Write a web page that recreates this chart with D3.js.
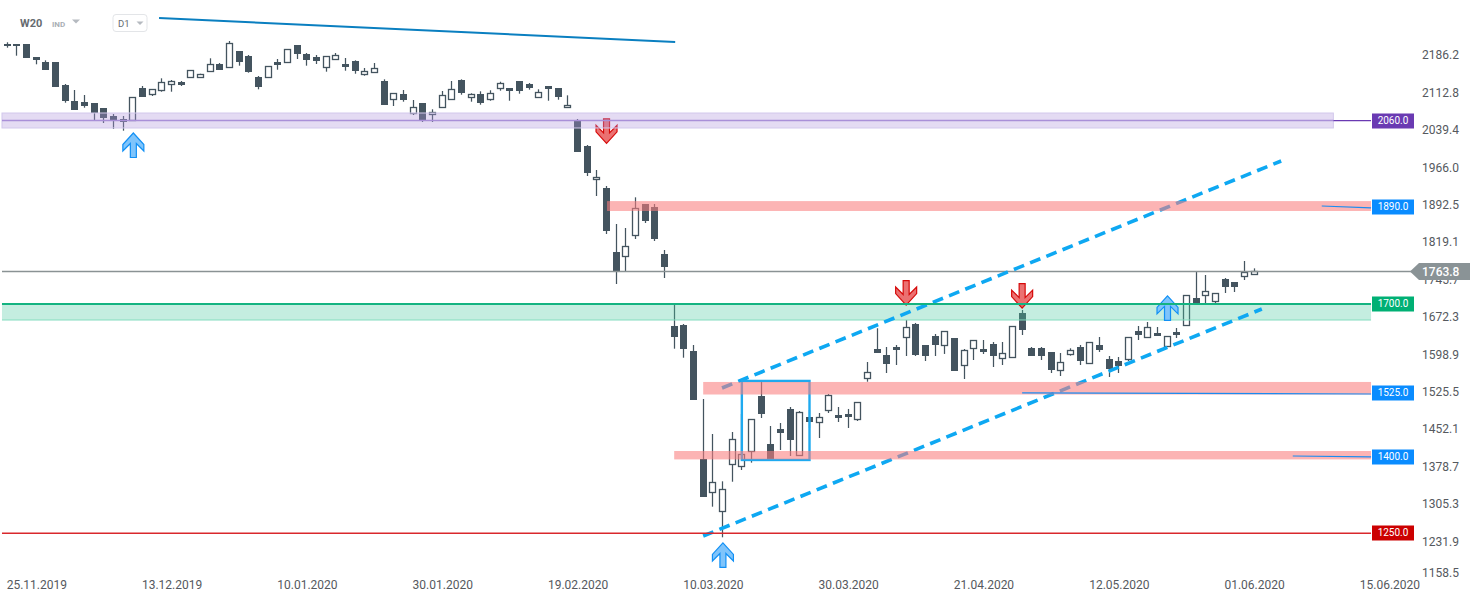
<!DOCTYPE html>
<html><head><meta charset="utf-8">
<script src="https://cdn.jsdelivr.net/npm/d3@7"></script>
<style>html,body{margin:0;padding:0;background:#fff;overflow:hidden}svg{display:block;font-family:Roboto,sans-serif}</style>
</head><body><svg id="c" width="1482" height="604"></svg>
<script>
// Daily candles: open, high, low, close, index = trading day
const candles = [
[2209.8,2213.7,2203.1,2205.8],[2210.3,2210.3,2187.4,2205.8],[2210.3,2210.3,2183.4,2183.4],[2184.8,2184.8,2170.5,2179.5],[2175,2178.3,2159.9,2159.9],
[2175,2175,2126.5,2126.5],[2129.9,2131.8,2095.1,2099],[2098.5,2120.1,2080.8,2081.4],[2096.5,2110.2,2085.3,2088.7],[2094.5,2094.5,2061.2,2074.9],
[2084.7,2084.7,2055.3,2065.7],[2069,2072.9,2043.5,2061.2],[2063.1,2069,2040.2,2057.8],[2061.2,2105.7,2061.2,2105.7],[2123.4,2127.9,2106.9,2106.9],
[2112.8,2121.4,2108.3,2121.4],[2120.1,2143,2116.7,2135.2],[2131.2,2139.7,2116.7,2137.1],[2135.8,2137.7,2127.9,2129.9],[2146.2,2158.7,2144.2,2158.7],
[2146.2,2152,2144.2,2152],[2158,2182.3,2158,2170.5],[2171,2173,2159.9,2159.9],[2165.8,2216.2,2165.8,2211.7],[2196.6,2196.6,2167.8,2175.6],
[2186.8,2188.8,2154,2155.4],[2145.6,2147.5,2121.4,2125.9],[2145,2166.6,2145,2166.6],[2174.4,2180.9,2159.9,2169.7],[2174.4,2200,2174.4,2200],
[2208.4,2208.4,2180.9,2191.3],[2190.7,2192.7,2167.8,2178.9],[2184.8,2188.8,2171.1,2177],[2165.8,2186.8,2156,2186.8],[2181.5,2192.7,2181.5,2188.2],
[2171,2182.9,2157.9,2165.2],[2177,2178.3,2152,2158],[2152,2163.2,2148.1,2156.7],[2156,2173,2156,2162.6],[2137.7,2141,2090.6,2090.6],
[2101.8,2113.6,2088.7,2113.6],[2111.6,2120.1,2097.1,2100.4],[2074.3,2100.4,2071,2086.1],[2094.5,2094.5,2057.2,2061.2],[2072.4,2082.2,2057.2,2077.5],
[2087.3,2118.1,2085.3,2109.6],[2101.8,2137.7,2101.8,2121.4],[2139.1,2141,2110.8,2114.8],[2106.9,2113.6,2097.1,2111.6],[2112.2,2117.5,2091.2,2094.5],
[2103,2119.5,2099,2113.6],[2124.6,2136.3,2118.7,2133.2],[2123.4,2123.4,2099,2118.7],[2137.1,2137.1,2112.8,2118.7],[2131.2,2133.8,2120.7,2124],
[2106.9,2121.4,2104.9,2116.7],[2127.3,2127.3,2099,2122.6],[2123.4,2123.4,2101,2106.9],[2087.3,2109.6,2087.3,2091.2],[2061.2,2063.1,1999,1999],
[2010.1,2012.1,1951.3,1957.7],[1944.8,1963,1912,1948.7],[1927.7,1931.6,1837.4,1843.9],[1801.5,1857,1739.3,1764.2],[1794.8,1849.2,1764.2,1813.3],
[1836,1909.4,1827.6,1887.9],[1896.3,1896.3,1859,1862.9],[1890.4,1896.3,1823.7,1827.6],[1798.2,1806,1751.1,1772.7],[1656.8,1700,1612.3,1635.8],
[1658.8,1660.8,1594.6,1612.3],[1607.8,1619.6,1512.2,1512.2],[1395.8,1513.6,1321.2,1321.2],[1331.6,1444.9,1302.2,1350.1],[1294.3,1352,1242.1,1336.4],
[1385.4,1448.8,1351.2,1434.5],[1381.5,1484.1,1374.2,1405],[1412.1,1473.8,1388.6,1473.8],[1519.5,1550.9,1476.3,1484.1],[1425.3,1460.6,1393.9,1393.9],
[1454.7,1466.5,1413.5,1446.9],[1494,1497.9,1401.7,1433.1],[1404.3,1490,1404.3,1487.5],[1478.2,1492,1456.7,1468.4],[1469,1486.1,1437,1477.7],
[1491.4,1523.4,1486.1,1520.8],[1482.2,1497.9,1468.4,1476.3],[1484.1,1494,1456.7,1478.2],[1474.9,1507.1,1470.4,1507.1],[1555.4,1586.2,1547.5,1566],
[1611.7,1652.4,1604.4,1604.4],[1600,1615.6,1564.6,1582.3],[1615.6,1619.6,1580.3,1609.8],[1634.7,1668.6,1598,1654.3],[1660.8,1662.8,1598,1600],
[1619.6,1619.6,1588.2,1598],[1637.2,1641.2,1598,1619.6],[1620,1646.5,1602,1646.5],[1633.3,1633.3,1568.5,1568.5],[1581,1611.7,1552.8,1609.2],
[1614.3,1628.8,1590.1,1628.8],[1611.7,1629.4,1601.9,1605.8],[1621.5,1625.4,1576.4,1598],[1594.6,1625.4,1580.3,1603.3],[1596.6,1656.3,1596.6,1656.3],
[1682.4,1688.3,1639.2,1649],[1613.7,1615.6,1598,1598],[1613.7,1615.6,1590.1,1598],[1605.8,1605.8,1564.6,1570.5],[1571.1,1603.9,1558.7,1585.6],
[1602.5,1613.1,1598.6,1609.2],[1615,1619.6,1580.3,1588.8],[1583.7,1624.9,1583.7,1624.9],[1619,1635.3,1605.9,1609.8],[1591.5,1598,1556.8,1572.5],
[1587.6,1596,1564.6,1577.8],[1592.7,1634.7,1588.2,1634.7],[1646.5,1656.8,1629.4,1639.2],[1635.9,1664.7,1635.9,1654.3],[1642.5,1654.9,1637.2,1637.2],
[1618.2,1636.6,1618.2,1636.6],[1644.5,1652.9,1633.3,1639.2],[1659.4,1717.1,1659.4,1717.1],[1711.2,1762.8,1702.6,1702.6],[1718.3,1757,1700,1725],
[1706.5,1721,1702,1721],[1748.5,1751.1,1721.6,1734],[1743.2,1743.2,1723.6,1734],[1755.6,1784.4,1747.1,1762.2],[1759.5,1770,1757.5,1765.4]
];
const priceTicks = [2186.2,2112.8,2039.4,1966.0,1892.5,1819.1,1745.7,1672.3,1598.9,1525.5,1452.1,1378.7,1305.3,1231.9,1158.5];
const dateIndex = [3,17,31,45,59,73,87,101,115,129,143];
const dateLabels = ["25.11.2019","13.12.2019","10.01.2020","30.01.2020","19.02.2020","10.03.2020","30.03.2020","21.04.2020","12.05.2020","01.06.2020","15.06.2020"];
const lastPrice = 1763.8;
// zones: from-index, to-index, upper price, lower price
const greenZone = [-0.55,141.1,1700,1668.6];
const purpleZone = [-0.55,137.2,2074.9,2045.5];
const redZones = [[62.05,141.1,1902,1882.6],[72,141.1,1547,1522.4],[69,141.1,1411.5,1395]];
// price levels: price, tag colour
const levels = [[2060,"#6a3ab2"],[1890,"#0a8cff"],[1700,"#00b074"],[1525,"#0a8cff"],[1400,"#0a8cff"],[1250,"#cc0000"]];
// trend lines: i0, p0, i1, p1
const channelLines = [[73.95,1535.2,131.8,1980.7],[72,1244.7,129.8,1690.2]];
const topLine = [15.7,2261.4,69.1,2214.3];
const thinLines = [[136,1892.4,141.1,1888.5],[105,1525.4,141.1,1523.4],[133,1401.7,141.1,1399.8]];
const levelLines = [[-0.55,137.2,2060,"#a98fd8",1.5],[137.2,141.1,2060,"#6a3ab2",1.2],[-0.55,141.1,1700,"#14b381",2],[-0.55,141.1,1250,"#d9282c",1.5]];
const boxRange = [76,83,1549,1393.9];
const upArrows = [[13,2035.7],[74,1231],[120,1716]];
const downArrows = [[62,2015.4],[93,1698],[105,1692]];

const svg = d3.select("#c");
const x = d3.scaleLinear().domain([0,129]).range([7.3,1254.1]);
const y = d3.scaleLinear().domain([2186.2,1158.5]).range([56.3,579.9]);
const DARK = "#44545f";
const TXT = "#55595e";

// price axis
const yAxis = d3.axisRight(y).tickValues(priceTicks).tickSize(0).tickPadding(0).tickFormat(d3.format(".1f"));
const gy = svg.append("g").attr("transform","translate(1422,-1.2)").call(yAxis);
gy.select(".domain").remove();
gy.selectAll("text").attr("fill",TXT).style("font-size","12px").style("font-family","Roboto");
gy.selectAll(".tick").filter(d=>d===1158.5).attr("transform",`translate(0,${y(1158.5)-5.6})`);

// date axis
const xAxis = d3.axisBottom(x).tickValues(dateIndex).tickSize(0).tickPadding(0).tickFormat(d=>dateLabels[dateIndex.indexOf(d)]);
const gx = svg.append("g").attr("transform","translate(0,580)").call(xAxis);
gx.select(".domain").remove();
gx.selectAll("text").attr("fill",TXT).style("font-size","12px").style("font-family","Roboto");

// candles
const cg = svg.append("g");
candles.forEach((c,i)=>{
  const [o,h,l,cl] = c, cx = Math.floor(x(i))+0.5, up = cl>o;
  cg.append("line").attr("x1",cx).attr("x2",cx).attr("y1",y(h)).attr("y2",y(l)).attr("stroke",DARK).attr("stroke-width",1.25);
  const t = Math.round(y(Math.max(o,cl))), b = Math.round(y(Math.min(o,cl)));
  if(up) cg.append("rect").attr("x",cx-3).attr("width",6).attr("y",t+.5).attr("height",Math.max(b-t,1)).attr("fill","#fff").attr("stroke",DARK).attr("stroke-width",1.3);
  else cg.append("rect").attr("x",cx-3.5).attr("width",7).attr("y",t).attr("height",Math.max(b-t,1)).attr("fill",DARK);
});

function zone(z,fill,stroke){
  svg.append("rect").attr("x",x(z[0])).attr("width",x(z[1])-x(z[0])).attr("y",y(z[2])).attr("height",y(z[3])-y(z[2]))
    .attr("fill",fill).attr("stroke",stroke||"none").attr("stroke-width",stroke?1:0);
}
zone(greenZone,"rgba(70,200,160,.32)");
svg.append("line").attr("x1",x(greenZone[0])).attr("x2",x(greenZone[1])).attr("y1",y(greenZone[3])).attr("y2",y(greenZone[3])).attr("stroke","#84dcbf").attr("stroke-width",1);

// current price line
svg.append("line").attr("x1",2).attr("x2",1412).attr("y1",y(lastPrice)).attr("y2",y(lastPrice)).attr("stroke","#8a9294").attr("stroke-width",1.3);

// top line
svg.append("line").attr("x1",x(topLine[0])).attr("y1",y(topLine[1])).attr("x2",x(topLine[2])).attr("y2",y(topLine[3])).attr("stroke","#0a7fc0").attr("stroke-width",2);

// channel
channelLines.forEach(l=>svg.append("line").attr("x1",x(l[0])).attr("y1",y(l[1])).attr("x2",x(l[2])).attr("y2",y(l[3]))
  .attr("stroke","#0ea8f2").attr("stroke-width",3.6).attr("stroke-dasharray","11 6.5"));

// box
svg.append("rect").attr("x",x(boxRange[0])).attr("width",x(boxRange[1])-x(boxRange[0])).attr("y",y(boxRange[2])).attr("height",y(boxRange[3])-y(boxRange[2]))
  .attr("fill","none").attr("stroke","#1eaaf0").attr("stroke-width",2.4);

// arrows
const upPath = "M0,0L10.5,11.5L10.5,18L3,10.5L3,24.5L-3,24.5L-3,10.5L-10.5,18L-10.5,11.5Z";
const downPath = "M0,0L10.5,-11.5L10.5,-18L3,-10.5L3,-24.5L-3,-24.5L-3,-10.5L-10.5,-18L-10.5,-11.5Z";
upArrows.forEach(a=>svg.append("path").attr("d",upPath).attr("transform",`translate(${x(a[0])+0.4},${y(a[1])})`).attr("fill","#7fc4fb").attr("stroke","#1190f5").attr("stroke-width",1.2));
downArrows.forEach(a=>svg.append("path").attr("d",downPath).attr("transform",`translate(${x(a[0])},${y(a[1])})`).attr("fill","rgba(225,45,45,.68)").attr("stroke","#d60a0a").attr("stroke-width",1.2));

// translucent zones above candles
redZones.forEach(z=>zone(z,"rgba(250,125,125,.58)"));
zone(purpleZone,"rgba(175,150,220,.34)","#d2c8ec");

// level lines
levelLines.forEach(l=>svg.append("line").attr("x1",x(l[0])).attr("x2",x(l[1])).attr("y1",y(l[2])).attr("y2",y(l[2])).attr("stroke",l[3]).attr("stroke-width",l[4]));
thinLines.forEach(l=>svg.append("line").attr("x1",x(l[0])).attr("y1",y(l[1])).attr("x2",x(l[2])).attr("y2",y(l[3])).attr("stroke","#1a8cf0").attr("stroke-width",1.2));

// level tags
levels.forEach(l=>{
  const cy = y(l[0]);
  svg.append("rect").attr("x",1372).attr("y",Math.round(cy)-7.5).attr("width",42).attr("height",15).attr("fill",l[1]);
  svg.append("text").attr("x",1393).attr("y",cy).attr("dy",".32em").attr("text-anchor","middle").attr("fill","#fff").style("font-size","10px").text(l[0].toFixed(1));
});

// last price tag
const ly = y(lastPrice);
svg.append("path").attr("d",d3.line()([[1410,ly],[1419,ly-8.5],[1470,ly-8.5],[1470,ly+8.5],[1419,ly+8.5]])+"Z").attr("fill","#8a9396");
svg.append("text").attr("x",1422).attr("y",ly).attr("dy",".35em").attr("fill","#fff").style("font-size","12px").style("font-weight",500).text(lastPrice.toFixed(1));

// header
svg.append("text").attr("x",20).attr("y",27).attr("fill","#666b70").style("font-size","11px").style("font-weight",700).text("W20");
svg.append("text").attr("x",52).attr("y",27).attr("fill","#a9afb5").style("font-size","8px").style("font-weight",700).text("IND");
svg.append("path").attr("d","M72,19.5L80,19.5L76,23.5Z").attr("fill","#b5bac0");
svg.append("rect").attr("x",113).attr("y",14.5).attr("width",34).attr("height",17).attr("rx",3).attr("fill","#fff").attr("stroke","#e3e5e8");
svg.append("text").attr("x",118).attr("y",27).attr("fill","#666b70").style("font-size","9.5px").text("D1");
svg.append("path").attr("d","M136.5,21.5L143.5,21.5L140,25Z").attr("fill","#b5bac0");
</script></body></html>
